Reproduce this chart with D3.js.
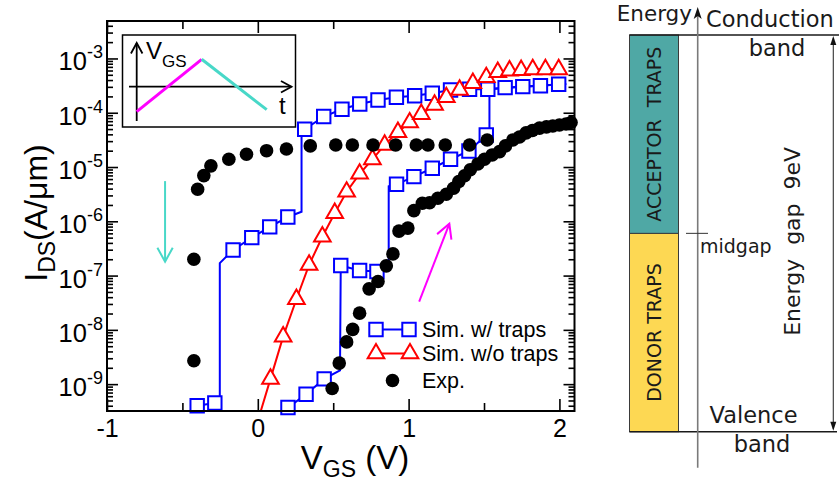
<!DOCTYPE html>
<html lang="en">
<head>
<meta charset="UTF-8">
<title>IDS-VGS hysteresis and trap levels</title>
<script src="https://d3js.org/d3.v7.min.js"></script>
<style>
  body { margin: 0; background: #fff; }
  svg { display: block; }
  .plot text { font-family: "Liberation Sans", Arial, sans-serif; fill: #000; }
  .bands text { font-family: "DejaVu Sans", sans-serif; fill: #1a1a1a; }
</style>
</head>
<body>
<svg width="839" height="483"></svg>
<script>
// ---- data (V in volts, I in A/um); third value = draw a marker there ----
const xTicks = [-1, 0, 1, 2];
const xMinorTicks = [-0.5, 0.5, 1.5];
const yDecades = [-9, -8, -7, -6, -5, -4, -3];

// simulation with traps, forward sweep (V going up)
const trapsUp = [
  [0.20, 3.7e-10, 1], [0.32, 6.5e-10, 1], [0.44, 1.25e-9, 1], [0.545, 1.8e-9, 0],
  [0.55, 1.53e-7, 1], [0.675, 1.24e-7, 1], [0.79, 1.19e-7, 1], [0.868, 1.25e-7, 0],
  [0.868, 4.4e-6, 0], [0.92, 4.8e-6, 1], [1.035, 6.65e-6, 1], [1.157, 9.5e-6, 1],
  [1.278, 1.39e-5, 1], [1.40, 1.98e-5, 1], [1.515, 3.9e-5, 1], [1.536, 4.3e-5, 0],
  [1.536, 2.75e-4, 0], [1.64, 2.9e-4, 1], [1.757, 3.03e-4, 1], [1.874, 3.15e-4, 1],
  [1.995, 3.35e-4, 1], [2.045, 3.4e-4, 0]
];
// simulation with traps, backward sweep (V going down)
const trapsDown = [
  [2.045, 3.4e-4, 0], [1.525, 2.71e-4, 1], [1.404, 2.71e-4, 1], [1.278, 2.63e-4, 1],
  [1.157, 2.29e-4, 1], [1.04, 2.06e-4, 1], [0.919, 1.93e-4, 1], [0.797, 1.72e-4, 1],
  [0.676, 1.45e-4, 1], [0.558, 1.16e-4, 1], [0.437, 8.5e-5, 1], [0.311, 4.96e-5, 1],
  [0.29, 4.5e-5, 0], [0.29, 1.5e-6, 0], [0.199, 1.2e-6, 1], [0.079, 7.9e-7, 1],
  [-0.04, 5.0e-7, 1], [-0.164, 2.97e-7, 1], [-0.252, 1.7e-7, 0], [-0.252, 4.8e-10, 0],
  [-0.285, 4.5e-10, 1], [-0.402, 4.0e-10, 1]
];
// simulation without traps
const noTraps = [
  [0.0, 2.1e-10, 0], [0.084, 1.25e-9, 1], [0.168, 7.5e-9, 1], [0.256, 3.67e-8, 1],
  [0.34, 1.57e-7, 1], [0.428, 5.2e-7, 1], [0.51, 1.41e-6, 1], [0.589, 3.5e-6, 1],
  [0.675, 7.5e-6, 1], [0.76, 1.38e-5, 1], [0.841, 2.55e-5, 1], [0.929, 4.4e-5, 1],
  [1.007, 6.6e-5, 1], [1.084, 9.4e-5, 1], [1.172, 1.39e-4, 1], [1.25, 1.93e-4, 1],
  [1.338, 2.63e-4, 1], [1.426, 3.5e-4, 1], [1.515, 4.5e-4, 1], [1.591, 5.6e-4, 1],
  [1.669, 5.96e-4, 1], [1.746, 6.1e-4, 1], [1.823, 6.3e-4, 1], [1.907, 6.3e-4, 1],
  [1.995, 6.3e-4, 1]
];
// experiment, forward sweep
const expUp = [
  [0.493, 8.3e-10], [0.54, 2.44e-9], [0.589, 6.0e-9], [0.629, 1.02e-8], [0.675, 2.03e-8],
  [0.738, 5.7e-8], [0.797, 7.8e-8], [0.852, 1.51e-7], [0.896, 2.51e-7], [0.936, 6.6e-7],
  [0.995, 7.5e-7], [1.035, 1.57e-6], [1.091, 2.15e-6], [1.139, 2.2e-6], [1.194, 2.66e-6],
  [1.25, 3.15e-6], [1.298, 4.07e-6], [1.333, 5.4e-6], [1.371, 6.9e-6], [1.409, 8.9e-6],
  [1.459, 1.14e-5], [1.503, 1.39e-5], [1.554, 1.67e-5], [1.603, 1.92e-5], [1.642, 2.45e-5],
  [1.691, 3.15e-5], [1.735, 3.58e-5], [1.779, 4.25e-5], [1.821, 4.7e-5], [1.868, 5.2e-5],
  [1.914, 5.5e-5], [1.956, 5.7e-5], [2.0, 5.96e-5], [2.044, 6.2e-5], [2.077, 6.6e-5]
];
// experiment, backward sweep
const expDown = [
  [1.521, 3.15e-5], [1.404, 2.55e-5], [1.243, 2.55e-5], [1.128, 2.55e-5], [1.051, 2.55e-5],
  [0.914, 2.55e-5], [0.764, 2.55e-5], [0.627, 2.55e-5], [0.517, 2.55e-5], [0.348, 2.45e-5],
  [0.19, 2.15e-5], [0.058, 2.0e-5], [-0.075, 1.72e-5], [-0.192, 1.39e-5], [-0.311, 1.05e-5],
  [-0.358, 6.95e-6], [-0.399, 3.9e-6], [-0.424, 2.0e-7], [-0.424, 2.7e-9]
];
const legendLabels = ["Sim. w/ traps", "Sim. w/o traps", "Exp."];

// inset: sketch of the gate voltage ramp (t, V)
const insetUp = [[0, -1], [1, 1]];
const insetDown = [[1, 1], [2, -0.92]];

// band diagram (energy in eV above the valence band)
const gapEV = 9;
const trapBands = [
  {name: "DONOR TRAPS", from: 0, to: 4.5, color: "#fdd853"},
  {name: "ACCEPTOR\u00a0\u00a0TRAPS", from: 4.5, to: 9, color: "#4fa8a5"}
];

// ---- layout ----
const svg = d3.select("svg");
const L = 107, R = 574.5, T = 21, B = 411;

const x = d3.scaleLinear().domain([-1, 2.1]).range([L, R]);
const y = d3.scaleLog().domain([3.2e-10, 4.9e-3]).range([B, T]);

const plot = svg.append("g").attr("class", "plot");

svg.append("defs").append("clipPath").attr("id", "clip")
  .append("rect").attr("x", L).attr("y", T).attr("width", R - L).attr("height", B - T);

// minor log ticks
const yMinor = [];
for (let e = -10; e <= -3; e++) {
  for (let k = 2; k <= 9; k++) {
    const v = k * Math.pow(10, e);
    if (v > y.domain()[0] && v < y.domain()[1]) yMinor.push(v);
  }
}
const yMajor = yDecades.map(e => Math.pow(10, e));

function tickStyle(g) {
  g.select(".domain").remove();
  g.selectAll(".tick line").attr("stroke", "#000").attr("stroke-width", 1.6);
}

plot.append("g").attr("transform", `translate(${L},0)`)
  .call(d3.axisLeft(y).tickValues(yMinor).tickSizeInner(-6).tickSizeOuter(0).tickFormat(""))
  .call(tickStyle);
plot.append("g").attr("transform", `translate(${L},0)`)
  .call(d3.axisLeft(y).tickValues(yMajor).tickSizeInner(-11).tickSizeOuter(0).tickFormat(""))
  .call(tickStyle);
plot.append("g").attr("transform", `translate(${R},0)`)
  .call(d3.axisRight(y).tickValues(yMinor).tickSizeInner(-6).tickSizeOuter(0).tickFormat(""))
  .call(tickStyle);
plot.append("g").attr("transform", `translate(${R},0)`)
  .call(d3.axisRight(y).tickValues(yMajor).tickSizeInner(-11).tickSizeOuter(0).tickFormat(""))
  .call(tickStyle);

const gx = plot.append("g").attr("transform", `translate(0,${B})`)
  .call(d3.axisBottom(x).tickValues(xTicks).tickSizeInner(-12).tickSizeOuter(0)
    .tickPadding(8).tickFormat(d => String(d)))
  .call(tickStyle);
gx.selectAll(".tick text").attr("font-size", 25).attr("font-family", "Liberation Sans, Arial, sans-serif");
plot.append("g").attr("transform", `translate(0,${B})`)
  .call(d3.axisBottom(x).tickValues(xMinorTicks).tickSizeInner(-8).tickSizeOuter(0).tickFormat(""))
  .call(tickStyle);
plot.append("g").attr("transform", `translate(0,${T})`)
  .call(d3.axisTop(x).tickValues(xTicks).tickSizeInner(-12).tickSizeOuter(0).tickFormat(""))
  .call(tickStyle);
plot.append("g").attr("transform", `translate(0,${T})`)
  .call(d3.axisTop(x).tickValues(xMinorTicks).tickSizeInner(-8).tickSizeOuter(0).tickFormat(""))
  .call(tickStyle);

// y tick labels 10^n
yDecades.forEach(e => {
  const t = plot.append("text")
    .attr("x", 103).attr("y", y(Math.pow(10, e)) + 12)
    .attr("text-anchor", "end").attr("font-size", 25.5);
  t.append("tspan").text("10");
  t.append("tspan").attr("font-size", 18).attr("dy", -12).text(String(e));
});

// axis titles
const xt = plot.append("text").attr("x", 355).attr("y", 469)
  .attr("text-anchor", "middle").attr("font-size", 33);
xt.append("tspan").text("V");
xt.append("tspan").attr("font-size", 23).attr("dy", 8).text("GS");
xt.append("tspan").attr("dy", -8).text(" (V)");

const yt = plot.append("text").attr("transform", "translate(47,213) rotate(-90)")
  .attr("text-anchor", "middle").attr("font-size", 32);
yt.append("tspan").text("I");
yt.append("tspan").attr("font-size", 23).attr("dy", 8).text("DS");
yt.append("tspan").attr("dy", -8).text("(A/\u03bcm)");

// data layer
const data = plot.append("g").attr("clip-path", "url(#clip)");
const line = d3.line().x(d => x(d[0])).y(d => y(d[1]));

const blue = "#0000ff", red = "#ff0000";
[trapsUp, trapsDown].forEach(s => {
  data.append("path").datum(s).attr("d", line)
    .attr("fill", "none").attr("stroke", blue).attr("stroke-width", 2);
});
const sq = d3.symbol(d3.symbolSquare, 180);
const trapMarks = trapsUp.concat(trapsDown).filter(d => d[2]);
plot.append("g").selectAll("path").data(trapMarks).join("path")
  .attr("d", sq).attr("transform", d => `translate(${x(d[0])},${y(d[1])})`)
  .attr("fill", "#fff").attr("stroke", blue).attr("stroke-width", 2);

data.append("path").datum(noTraps).attr("d", line)
  .attr("fill", "none").attr("stroke", red).attr("stroke-width", 2);
const tri = d3.symbol(d3.symbolTriangle, 120);
plot.append("g").selectAll("path").data(noTraps.filter(d => d[2])).join("path")
  .attr("d", tri).attr("transform", d => `translate(${x(d[0])},${y(d[1])})`)
  .attr("fill", "#fff").attr("stroke", red).attr("stroke-width", 2);

plot.append("g").selectAll("circle").data(expUp.concat(expDown)).join("circle")
  .attr("cx", d => x(d[0])).attr("cy", d => y(d[1])).attr("r", 6.8).attr("fill", "#000");

// sweep direction arrows
function openArrow(g, x1, y1, x2, y2, color, w, head) {
  g.append("line").attr("x1", x1).attr("y1", y1).attr("x2", x2).attr("y2", y2)
    .attr("stroke", color).attr("stroke-width", w);
  const a = Math.atan2(y2 - y1, x2 - x1), s = 0.5;
  g.append("polyline")
    .attr("points", [
      [x2 - head * Math.cos(a - s), y2 - head * Math.sin(a - s)],
      [x2, y2],
      [x2 - head * Math.cos(a + s), y2 - head * Math.sin(a + s)]
    ].map(p => p.join(",")).join(" "))
    .attr("fill", "none").attr("stroke", color).attr("stroke-width", w);
}
openArrow(plot, x(-0.615), y(5.5e-6), x(-0.615), y(1.8e-7), "#48d8c8", 2, 16);
openArrow(plot, x(1.07), y(3.3e-8), x(1.27), y(9e-7), "#ff00ff", 2, 16);

// frame
plot.append("rect").attr("x", L).attr("y", T).attr("width", R - L).attr("height", B - T)
  .attr("fill", "none").attr("stroke", "#000").attr("stroke-width", 2);

// legend
const lg = plot.append("g");
const legY = [329.5, 353.5, 380.5];
lg.append("line").attr("x1", 376).attr("x2", 409).attr("y1", legY[0]).attr("y2", legY[0])
  .attr("stroke", blue).attr("stroke-width", 2);
[376, 409].forEach(px => lg.append("path").attr("d", sq)
  .attr("transform", `translate(${px},${legY[0]})`)
  .attr("fill", "#fff").attr("stroke", blue).attr("stroke-width", 2));
lg.append("line").attr("x1", 376).attr("x2", 410).attr("y1", legY[1]).attr("y2", legY[1])
  .attr("stroke", red).attr("stroke-width", 2);
[376, 410].forEach(px => lg.append("path").attr("d", tri)
  .attr("transform", `translate(${px},${legY[1]})`)
  .attr("fill", "#fff").attr("stroke", red).attr("stroke-width", 2));
lg.append("circle").attr("cx", 392.5).attr("cy", legY[2]).attr("r", 6.8).attr("fill", "#000");
legendLabels.forEach((t, i) => lg.append("text").attr("x", 422).attr("y", legY[i] + 7.5)
  .attr("font-size", 21.5).text(t));

// inset
const ins = plot.append("g");
ins.append("rect").attr("x", 122.5).attr("y", 35).attr("width", 173).attr("height", 92)
  .attr("fill", "#fff").attr("stroke", "#000").attr("stroke-width", 1.5);
const ix = d3.scaleLinear().domain([0, 2]).range([136.7, 266.7]);
const iy = d3.scaleLinear().domain([-1, 1]).range([111.7, 59.3]);
openArrow(ins, 136.7, 121, 136.7, 43, "#000", 1.8, 12);
openArrow(ins, 129, 86.7, 291.5, 86.7, "#000", 1.8, 12);
const iline = d3.line().x(d => ix(d[0])).y(d => iy(d[1]));
ins.append("path").datum(insetUp).attr("d", iline).attr("stroke", "#ff00ff").attr("stroke-width", 3).attr("fill", "none");
ins.append("path").datum(insetDown).attr("d", iline).attr("stroke", "#48d8c8").attr("stroke-width", 3).attr("fill", "none");
const iv = ins.append("text").attr("x", 146).attr("y", 59).attr("font-size", 24);
iv.append("tspan").text("V");
iv.append("tspan").attr("font-size", 17).attr("dy", 8).text("GS");
ins.append("text").attr("x", 279).attr("y", 114).attr("font-size", 24).text("t");

// ---- band diagram ----
const bands = svg.append("g").attr("class", "bands");
const e = d3.scaleLinear().domain([0, gapEV]).range([431.7, 35]);
const bx0 = 629.5, bx1 = 678.5, axisX = 697.7;

bands.selectAll("rect").data(trapBands).join("rect")
  .attr("x", bx0).attr("width", bx1 - bx0)
  .attr("y", d => e(d.to)).attr("height", d => e(d.from) - e(d.to))
  .attr("fill", d => d.color).attr("stroke", "#3a3a3a").attr("stroke-width", 1);
bands.selectAll("text.trap").data(trapBands).join("text").attr("class", "trap")
  .attr("transform", d => `translate(${(bx0 + bx1) / 2},${(e(d.from) + e(d.to)) / 2}) rotate(-90)`)
  .attr("text-anchor", "middle").attr("dy", "0.36em").attr("font-size", 19).text(d => d.name);

// band edges
bands.append("line").attr("x1", bx0).attr("x2", 839).attr("y1", e(gapEV)).attr("y2", e(gapEV))
  .attr("stroke", "#1a1a1a").attr("stroke-width", 1.6);
bands.append("line").attr("x1", bx0).attr("x2", 837).attr("y1", e(0)).attr("y2", e(0))
  .attr("stroke", "#1a1a1a").attr("stroke-width", 1.6);

// energy axis
bands.append("line").attr("x1", axisX).attr("x2", axisX).attr("y1", 467.7).attr("y2", 14)
  .attr("stroke", "#7a7a7a").attr("stroke-width", 1.6);
bands.append("path").attr("d", `M${axisX},7 L${axisX - 4},19 L${axisX},16 L${axisX + 4},19 Z`).attr("fill", "#111");
bands.append("line").attr("x1", 686).attr("x2", 708).attr("y1", e(gapEV / 2)).attr("y2", e(gapEV / 2))
  .attr("stroke", "#333").attr("stroke-width", 1);

// energy gap arrow
const gx2 = 833.3;
bands.append("line").attr("x1", gx2).attr("x2", gx2).attr("y1", e(gapEV) + 3).attr("y2", e(0) - 3)
  .attr("stroke", "#333").attr("stroke-width", 1.1);
bands.append("path").attr("d", `M${gx2},${e(gapEV) + 1} L${gx2 - 3},${e(gapEV) + 10} L${gx2 + 3},${e(gapEV) + 10} Z`).attr("fill", "#111");
bands.append("path").attr("d", `M${gx2},${e(0) - 1} L${gx2 - 3},${e(0) - 10} L${gx2 + 3},${e(0) - 10} Z`).attr("fill", "#111");

bands.append("text").attr("x", 692).attr("y", 21).attr("text-anchor", "end").attr("font-size", 21.5).text("Energy");
bands.append("text").attr("x", 706).attr("y", 27).attr("font-size", 22.5).text("Conduction");
bands.append("text").attr("x", 777).attr("y", 56).attr("text-anchor", "middle").attr("font-size", 22.5).text("band");
bands.append("text").attr("x", 700).attr("y", 253).attr("font-size", 19).text("midgap");
bands.append("text").attr("x", 753.5).attr("y", 423).attr("text-anchor", "middle").attr("font-size", 22.5).text("Valence");
bands.append("text").attr("x", 762).attr("y", 452).attr("text-anchor", "middle").attr("font-size", 22.5).text("band");
bands.append("text").attr("transform", `translate(800,${e(gapEV / 2) + 8}) rotate(-90)`)
  .attr("text-anchor", "middle").attr("font-size", 22)
  .text("Energy\u00a0\u00a0gap\u00a0\u00a0" + gapEV + "eV");
</script>
</body>
</html>
